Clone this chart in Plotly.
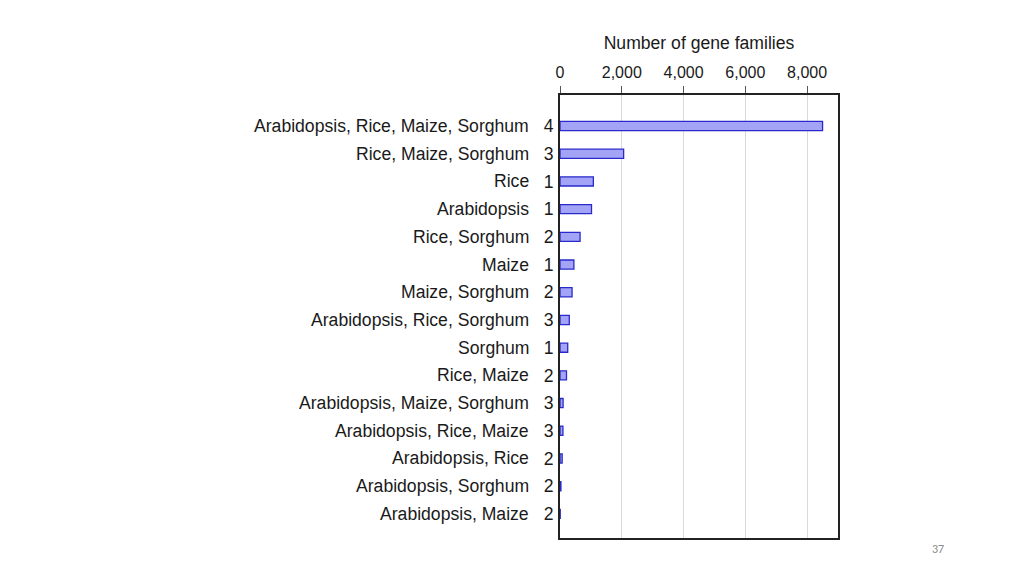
import plotly.graph_objects as go

species = ["Arabidopsis, Rice, Maize, Sorghum", "Rice, Maize, Sorghum", "Rice", "Arabidopsis",
           "Rice, Sorghum", "Maize", "Maize, Sorghum", "Arabidopsis, Rice, Sorghum", "Sorghum",
           "Rice, Maize", "Arabidopsis, Maize, Sorghum", "Arabidopsis, Rice, Maize", "Arabidopsis, Rice",
           "Arabidopsis, Sorghum", "Arabidopsis, Maize"]
n_species = [4, 3, 1, 1, 2, 1, 2, 3, 1, 2, 3, 3, 2, 2, 2]
gene_families = [8500, 2060, 1080, 1020, 650, 450, 390, 300, 250, 210, 100, 95, 70, 30, 8]
x_ticks = [0, 2000, 4000, 6000, 8000]

FONT = "Liberation Sans, Arial, sans-serif"
TXT = "#1a1a1a"

fig = go.Figure()
fig.add_trace(go.Bar(
    y=species, x=gene_families, orientation="h", width=0.33,
    marker=dict(color="#a4a4f6", line=dict(color="#2a2acc", width=1.3)),
    showlegend=False, hoverinfo="x+y",
))

for name in species:
    fig.add_annotation(x=0, xref="paper", y=name, yref="y", text=name, showarrow=False,
                       xanchor="right", xshift=-29, font=dict(family=FONT, size=17.6, color=TXT))

fig.add_annotation(x=(938 - 560) / (838 - 560), xref="paper", y=-(549 - 538) / (538 - 95), yref="paper",
                   text="37", showarrow=False,
                   font=dict(family="Carlito, Calibri, Liberation Sans, sans-serif", size=12, color="#8a8a8a"),
                   xanchor="center", yanchor="middle")

# The page body has an 8px default margin, so the figure is offset by 8px.
fig.update_layout(
    width=1008, height=560,
    margin=dict(l=552, r=178, t=87, b=30),
    paper_bgcolor="white", plot_bgcolor="white",
    font=dict(family=FONT, size=17.6, color=TXT),
    bargap=0.6,
)
fig.update_xaxes(
    side="top", range=[0, 9000], tickvals=x_ticks, tickformat=",d", automargin=False,
    tickfont=dict(size=16, color=TXT), showgrid=True, gridcolor="#d9d9d9", gridwidth=1.3,
    showline=True, linecolor="#222", linewidth=1.5, mirror=True,
    ticks="outside", ticklen=7, tickcolor="#555", zeroline=False, ticklabelstandoff=2,
    title=dict(text="Number of gene families", standoff=10, font=dict(size=17.6, color=TXT)),
)
fig.update_yaxes(
    type="category", categoryorder="array", categoryarray=species, automargin=False,
    range=[14.87, -1.12], tickvals=species, ticktext=[str(n) for n in n_species],
    tickfont=dict(size=17.6, color=TXT), ticks="", ticklabelstandoff=1,
    showline=True, linecolor="#222", linewidth=1.8, mirror=True, showgrid=False,
)

fig.write_html("out.html")
